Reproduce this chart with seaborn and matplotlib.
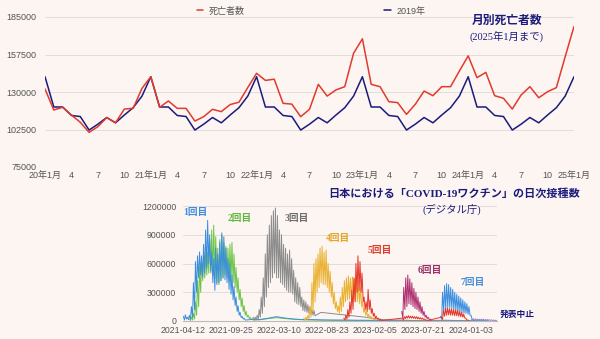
import pandas as pd
import matplotlib
matplotlib.use("Agg")
import matplotlib.pyplot as plt
from matplotlib.lines import Line2D
from matplotlib.ticker import FuncFormatter
import seaborn as sns

sns.set_style("white")
plt.rcParams["font.family"] = ["Liberation Sans", "Noto Sans CJK JP", "DejaVu Sans"]

# ---------------- monthly deaths, Jan 2020 - Jan 2025 ----------------
month_ticks = ["20年1月", "4", "7", "10", "21年1月", "4", "7", "10", "22年1月", "4", "7", "10",
               "23年1月", "4", "7", "10", "24年1月", "4", "7", "10", "25年1月"]
deaths = [132200, 116800, 118800, 113100, 107800, 100400, 104600, 111200, 107500, 117500, 118000, 132700,
          141200, 118800, 123400, 118000, 118000, 108700, 111900, 117300, 115600, 120800, 122500, 133300,
          143700, 138500, 139400, 121700, 121100, 111900, 117300, 135600, 127000, 131500, 133900, 158400,
          169000, 135600, 133900, 122900, 122200, 113600, 121000, 130700, 127300, 133900, 133900, 145400,
          156500, 140500, 144400, 127300, 125400, 117500, 127800, 133900, 125800, 130200, 133200, 155900,
          178000]
deaths_2019 = [141200, 119000, 119000, 112800, 112000, 102100, 106400, 111300, 107400, 113100, 118500, 127000]
series_names = ["死亡者数", "2019年"]

# ---------------- daily vaccinations (thousands), weekly high / low ----------------
dose_names = ["1回目", "2回目", "3回目", "4回目", "5回目", "6回目", "7回目"]

d1_start = "2021-04-12"
d1_high = [50, 65, 40, 60, 150, 400, 620, 680, 720, 680, 800, 950, 1050, 900, 720, 650, 760, 700,
           820, 920, 880, 760, 650, 600, 480, 360, 250, 160, 90, 50, 30]
d1_low = [10, 20, 15, 20, 40, 120, 300, 450, 480, 460, 500, 550, 600, 520, 400, 320, 380, 400,
          420, 450, 430, 400, 330, 280, 220, 160, 100, 60, 35, 20, 10]
d1_tail_start = "2021-12-01"
d1_tail = [15, 15, 30, 45, 30, 20, 15, 15, 12, 10, 10, 10, 8, 8, 6, 6, 5, 8, 6, 5, 4, 6, 8, 6, 4, 3, 3, 2]

d2_start = "2021-05-03"
d2_high = [20, 40, 80, 200, 420, 560, 620, 660, 700, 720, 850, 950, 1000, 880, 760, 850, 900, 820,
           780, 760, 800, 820, 700, 560, 450, 330, 240, 160, 100, 60, 40, 25]
d2_low = [5, 10, 20, 60, 150, 300, 420, 450, 480, 500, 500, 480, 450, 400, 380, 420, 450, 480,
          450, 420, 420, 400, 350, 300, 220, 150, 100, 60, 40, 25, 15, 10]
d2_tail_start = "2022-01-01"
d2_tail = [12, 25, 35, 25, 18, 12, 10, 8, 8, 6, 6, 5, 5, 4, 4, 3, 3, 3, 2, 2, 2, 2, 2, 1, 1, 1, 1]

d3_start = "2021-12-09"
d3_high = [40, 40, 60, 120, 250, 450, 700, 900, 1000, 1100, 1150, 1180, 1100, 950, 900, 800, 760,
           700, 740, 650, 530, 450, 400, 350, 250, 220, 200, 170, 150, 120, 110]
d3_low = [10, 15, 20, 40, 80, 150, 250, 350, 400, 450, 500, 450, 450, 400, 380, 350, 320,
          300, 300, 280, 200, 180, 170, 150, 110, 100, 90, 80, 70, 60, 55]
d3_tail_start = "2022-08-01"
d3_tail = [90, 80, 70, 60, 50, 40, 25, 15, 10, 8, 6, 5, 4, 3, 3, 2, 2, 1]

d4_start = "2022-06-02"
d4_high = [30, 40, 60, 150, 400, 600, 650, 700, 760, 780, 720, 740, 600, 520, 400, 300, 200, 160,
           250, 350, 420, 450, 470, 450, 460, 440, 450, 420, 350, 200, 130, 100, 70, 50, 30, 20]
d4_low = [10, 15, 20, 40, 100, 200, 300, 350, 400, 380, 380, 350, 300, 250, 180, 130, 100, 80,
          100, 150, 200, 220, 230, 220, 220, 200, 200, 180, 150, 90, 60, 40, 30, 20, 10, 10]

d5_start = "2022-10-18"
d5_high = [30, 60, 120, 200, 320, 450, 600, 680, 620, 500, 250, 200, 330, 220, 130, 80, 50, 30, 20]
d5_low = [10, 20, 40, 80, 120, 200, 300, 320, 300, 200, 120, 100, 120, 80, 50, 30, 20, 10, 5]
d5_spring_start = "2023-05-08"
d5_spring_high = [30, 45, 50, 55, 50, 50, 45, 45, 40, 35, 30, 20, 10]
d5_spring_low = [10, 25, 30, 30, 30, 28, 25, 22, 20, 18, 15, 10, 5]
d5_autumn_start = "2023-09-20"
d5_autumn_high = [40, 110, 130, 135, 130, 125, 120, 115, 110, 100, 90, 70, 30, 10]
d5_autumn_low = [15, 50, 60, 65, 60, 60, 55, 55, 50, 45, 40, 30, 10, 5]

d6_start = "2023-05-06"
d6_high = [100, 350, 450, 480, 440, 400, 340, 300, 250, 200, 150, 100, 60, 40, 20]
d6_low = [30, 120, 150, 180, 170, 150, 130, 120, 100, 80, 60, 40, 25, 15, 5]

d7_start = "2023-09-17"
d7_high = [50, 300, 370, 390, 380, 350, 330, 300, 280, 260, 240, 220, 200, 180, 150, 60, 20]
d7_low = [20, 100, 120, 140, 140, 130, 120, 110, 100, 100, 90, 80, 80, 70, 60, 20, 5]

late_start = "2024-01-01"
late_high = [15, 20, 22, 20, 18, 20, 18, 16, 15, 14, 12, 10, 8]
late_low = [5, 8, 10, 8, 8, 8, 7, 6, 6, 5, 5, 4, 3]

bg = "#FCF5F2"
red = "#E23A2C"
navy = "#1B1B7C"
c_blue = "#3B8EDF"
c_green = "#6DC546"
c_gray = "#8C8C8C"
c_gold = "#EAB232"
c_red = "#E5372A"
c_mag = "#AE2F71"
c_lav = "#9088C8"


def weekly(name, start, highs, lows):
    t0 = pd.Timestamp(start)
    rows = []
    for w, (h, lo) in enumerate(zip(highs, lows)):
        rows.append((name, t0 + pd.Timedelta(days=7 * w + 1), h * 1000))
        rows.append((name, t0 + pd.Timedelta(days=7 * w + 5), lo * 1000))
    return rows


def monthly(name, start, vals):
    dates = pd.date_range(start, periods=len(vals), freq="MS")
    return [(name, d, v * 1000) for d, v in zip(dates, vals)]


rows = []
rows += weekly("1回目", d1_start, d1_high, d1_low) + monthly("1回目", d1_tail_start, d1_tail)
rows += weekly("2回目", d2_start, d2_high, d2_low) + monthly("2回目", d2_tail_start, d2_tail)
rows += weekly("3回目", d3_start, d3_high, d3_low) + monthly("3回目", d3_tail_start, d3_tail)
rows += weekly("4回目", d4_start, d4_high, d4_low)
rows += weekly("5回目", d5_start, d5_high, d5_low)
rows += weekly("5回目", d5_spring_start, d5_spring_high, d5_spring_low)
rows += weekly("5回目", d5_autumn_start, d5_autumn_high, d5_autumn_low)
rows += weekly("6回目", d6_start, d6_high, d6_low)
rows += weekly("7回目", d7_start, d7_high, d7_low)
rows += weekly("late", late_start, late_high, late_low)
vax = pd.DataFrame(rows, columns=["dose", "date", "count"])

vax_palette = {"1回目": c_blue, "2回目": c_green, "3回目": c_gray, "4回目": c_gold,
               "5回目": c_red, "6回目": c_mag, "7回目": c_blue, "late": c_lav}
draw_order = ["2回目", "1回目", "3回目", "4回目", "6回目", "7回目", "5回目", "late"]

# ---------------- figure ----------------
fig = plt.figure(figsize=(6, 3.39), dpi=100, facecolor=bg)

# top: monthly deaths
ax1 = fig.add_axes([45 / 600, 1 - 167 / 339, 529 / 600, 150 / 339])
ax1.set_facecolor(bg)
n = len(deaths)
top = pd.DataFrame({
    "m": list(range(n)) * 2,
    "v": deaths + (deaths_2019 * 5 + deaths_2019[:1]),
    "s": [series_names[0]] * n + [series_names[1]] * n,
})
sns.lineplot(data=top, x="m", y="v", hue="s", hue_order=[series_names[1], series_names[0]],
             palette={series_names[0]: red, series_names[1]: navy},
             linewidth=1.1, legend=False, ax=ax1)
ax1.set_xlim(0, n - 1)
ax1.set_ylim(75000, 185000)
ax1.set_yticks([75000, 102500, 130000, 157500, 185000])
ax1.yaxis.set_major_formatter(FuncFormatter(lambda v, p: f"{int(v)}"))
ax1.set_xticks(range(0, n, 3))
ax1.set_xticklabels(month_ticks)
ax1.grid(axis="y", color="#E4DCDA", linewidth=0.7)
ax1.grid(axis="x", visible=False)
for sp in ax1.spines.values():
    sp.set_visible(False)
ax1.tick_params(axis="both", length=0, labelsize=6.5, colors="#555555")
ax1.tick_params(axis="y", pad=6)
ax1.tick_params(axis="x", pad=2.6)
ax1.set_xlabel("")
ax1.set_ylabel("")

handles = [Line2D([], [], color=red, linewidth=1.1), Line2D([], [], color=navy, linewidth=1.1)]
fig.legend(handles, series_names, loc="center", bbox_to_anchor=(311 / 600, 1 - 11 / 339),
           ncol=2, frameon=False, handlelength=0.7, handletextpad=0.6, columnspacing=15.5,
           fontsize=6.5, labelcolor="#555555")

serif = ["Liberation Serif", "Noto Sans CJK JP"]
fig.text(507 / 600, 1 - 21 / 339, "月別死亡者数", ha="center", va="center", fontsize=8.5,
         fontweight="bold", color=navy, family=serif)
fig.text(507 / 600, 1 - 36 / 339, "(2025年1月まで)", ha="center", va="center", fontsize=7.5,
         color=navy, family=serif)

# bottom: daily vaccinations
ax2 = fig.add_axes([183 / 600, 1 - 321 / 339, 314 / 600, 115 / 339])
ax2.set_facecolor("none")
sns.lineplot(data=vax, x="date", y="count", hue="dose", hue_order=draw_order,
             palette=vax_palette, estimator=None, linewidth=0.7, legend=False, ax=ax2)
x0 = pd.Timestamp("2021-04-12")
ax2.set_xlim(x0, pd.Timestamp("2024-03-31"))
ax2.set_ylim(0, 1200000)
ax2.set_yticks([0, 300000, 600000, 900000, 1200000])
ax2.yaxis.set_major_formatter(FuncFormatter(lambda v, p: f"{int(v)}"))
date_ticks = pd.date_range(x0, periods=7, freq="166D")
ax2.set_xticks(date_ticks)
ax2.set_xticklabels([d.strftime("%Y-%m-%d") for d in date_ticks])
ax2.grid(axis="y", color="#E4DCDA", linewidth=0.7)
ax2.grid(axis="x", visible=False)
for name, sp in ax2.spines.items():
    sp.set_visible(name == "bottom")
ax2.spines["bottom"].set_color("#BBBBBB")
ax2.spines["bottom"].set_linewidth(0.8)
ax2.tick_params(axis="both", length=0, labelsize=6.3, colors="#555555")
ax2.tick_params(axis="y", pad=5)
ax2.tick_params(axis="x", pad=3.6)
ax2.set_xlabel("")
ax2.set_ylabel("")

fig.text(454 / 600, 1 - 193 / 339, "日本における「COVID-19ワクチン」の日次接種数", ha="center", va="center",
         fontsize=8, fontweight="bold", color=navy, family=serif)
fig.text(452 / 600, 1 - 209 / 339, "(デジタル庁)", ha="center", va="center", fontsize=7.5,
         color=navy, family=serif)

dose_label_pos = [(195, 212, "#3B8EDF"), (240, 218, "#62B83E"), (297, 218, "#6E6E6E"),
                  (338, 239, "#E3A62A"), (380, 250, "#E03A2C"), (430, 270, "#9C2D66"),
                  (473, 283, "#4A8FD8")]
for name, (px, py, col) in zip(dose_names, dose_label_pos):
    fig.text(px / 600, 1 - py / 339, name, ha="center", va="center", fontsize=7,
             fontweight="bold", color=col, family=serif)
fig.text(517 / 600, 1 - 315 / 339, "発表中止", ha="center", va="center", fontsize=6.3,
         fontweight="bold", color=navy, family=serif)

fig.savefig("out.png", dpi=100, facecolor=bg)
